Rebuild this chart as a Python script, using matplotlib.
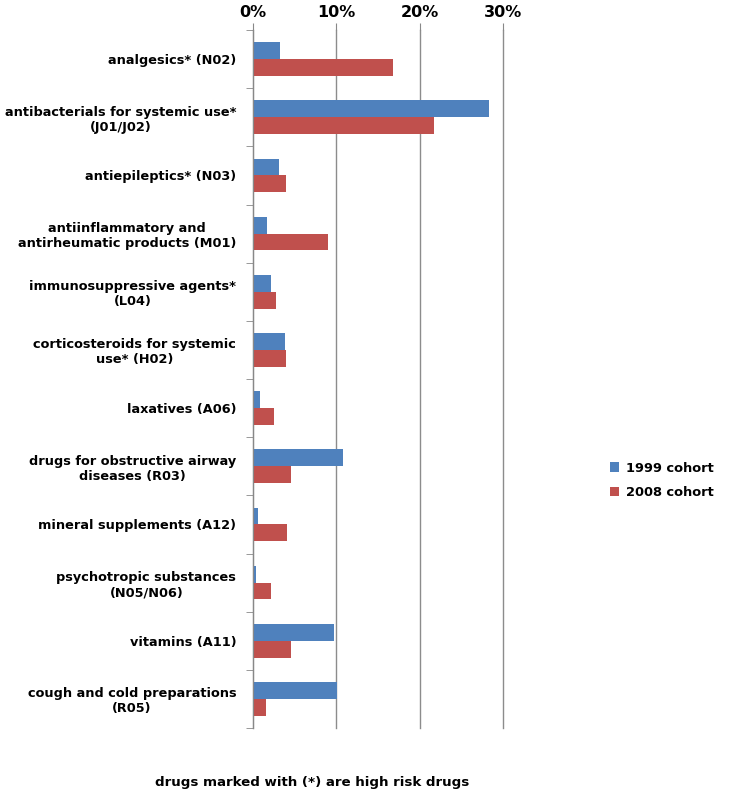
import numpy as np
import matplotlib.pyplot as plt
from matplotlib.ticker import FixedLocator, PercentFormatter

categories = [
    "analgesics* (N02)",
    "antibacterials for systemic use*\n(J01/J02)",
    "antiepileptics* (N03)",
    "antiinflammatory and\nantirheumatic products (M01)",
    "immunosuppressive agents*\n(L04)",
    "corticosteroids for systemic\nuse* (H02)",
    "laxatives (A06)",
    "drugs for obstructive airway\ndiseases (R03)",
    "mineral supplements (A12)",
    "psychotropic substances\n(N05/N06)",
    "vitamins (A11)",
    "cough and cold preparations\n(R05)",
]
cohort_1999 = [3.2, 28.3, 3.1, 1.7, 2.1, 3.8, 0.8, 10.8, 0.6, 0.4, 9.7, 10.1]
cohort_2008 = [16.8, 21.7, 3.9, 9.0, 2.7, 4.0, 2.5, 4.5, 4.1, 2.1, 4.5, 1.6]
series_names = ["1999 cohort", "2008 cohort"]

blue = "#4F81BD"
red = "#C0504D"

fig = plt.figure(figsize=(7.34, 7.98), dpi=100)
ax = fig.add_axes([0.3447, 0.0877, 0.3410, 0.8747])

y = np.arange(len(categories))
h = 0.29
ax.barh(y - h / 2, cohort_1999, height=h, color=blue, label=series_names[0])
ax.barh(y + h / 2, cohort_2008, height=h, color=red, label=series_names[1])

ax.set_xlim(0, 30)
ax.set_ylim(len(categories) - 0.5, -0.5)
ax.xaxis.tick_top()
ax.set_xticks([0, 10, 20, 30])
ax.xaxis.set_major_formatter(PercentFormatter(decimals=0))
ax.tick_params(axis='x', length=5, color='#888888', labelsize=11.5, pad=2)
for lbl in ax.get_xticklabels():
    lbl.set_fontweight('bold')
ax.grid(axis='x', color='#8c8c8c', linewidth=1)
for gl in ax.get_xgridlines():
    gl.set_clip_on(False)
ax.set_axisbelow(True)

ax.set_yticks(y)
ax.set_yticklabels(categories, fontsize=9.3, fontweight='bold', multialignment='center')
ax.tick_params(axis='y', which='major', length=0, pad=12)
ax.yaxis.set_minor_locator(FixedLocator(np.arange(-0.5, len(categories), 1)))
ax.tick_params(axis='y', which='minor', length=5, color='#888888')

for s in ['top', 'right', 'bottom']:
    ax.spines[s].set_visible(False)
ax.spines['left'].set_color('#888888')

fig.legend(loc='center left', bbox_to_anchor=(0.815, 0.398), frameon=False,
           prop={'weight': 'bold', 'size': 9.4}, handlelength=0.7, handleheight=0.7,
           handletextpad=0.5, labelspacing=0.9)

fig.text(0.425, 0.02, "drugs marked with (*) are high risk drugs",
         ha='center', va='center', fontsize=9.6, fontweight='bold')

fig.savefig("out.png", dpi=100)
